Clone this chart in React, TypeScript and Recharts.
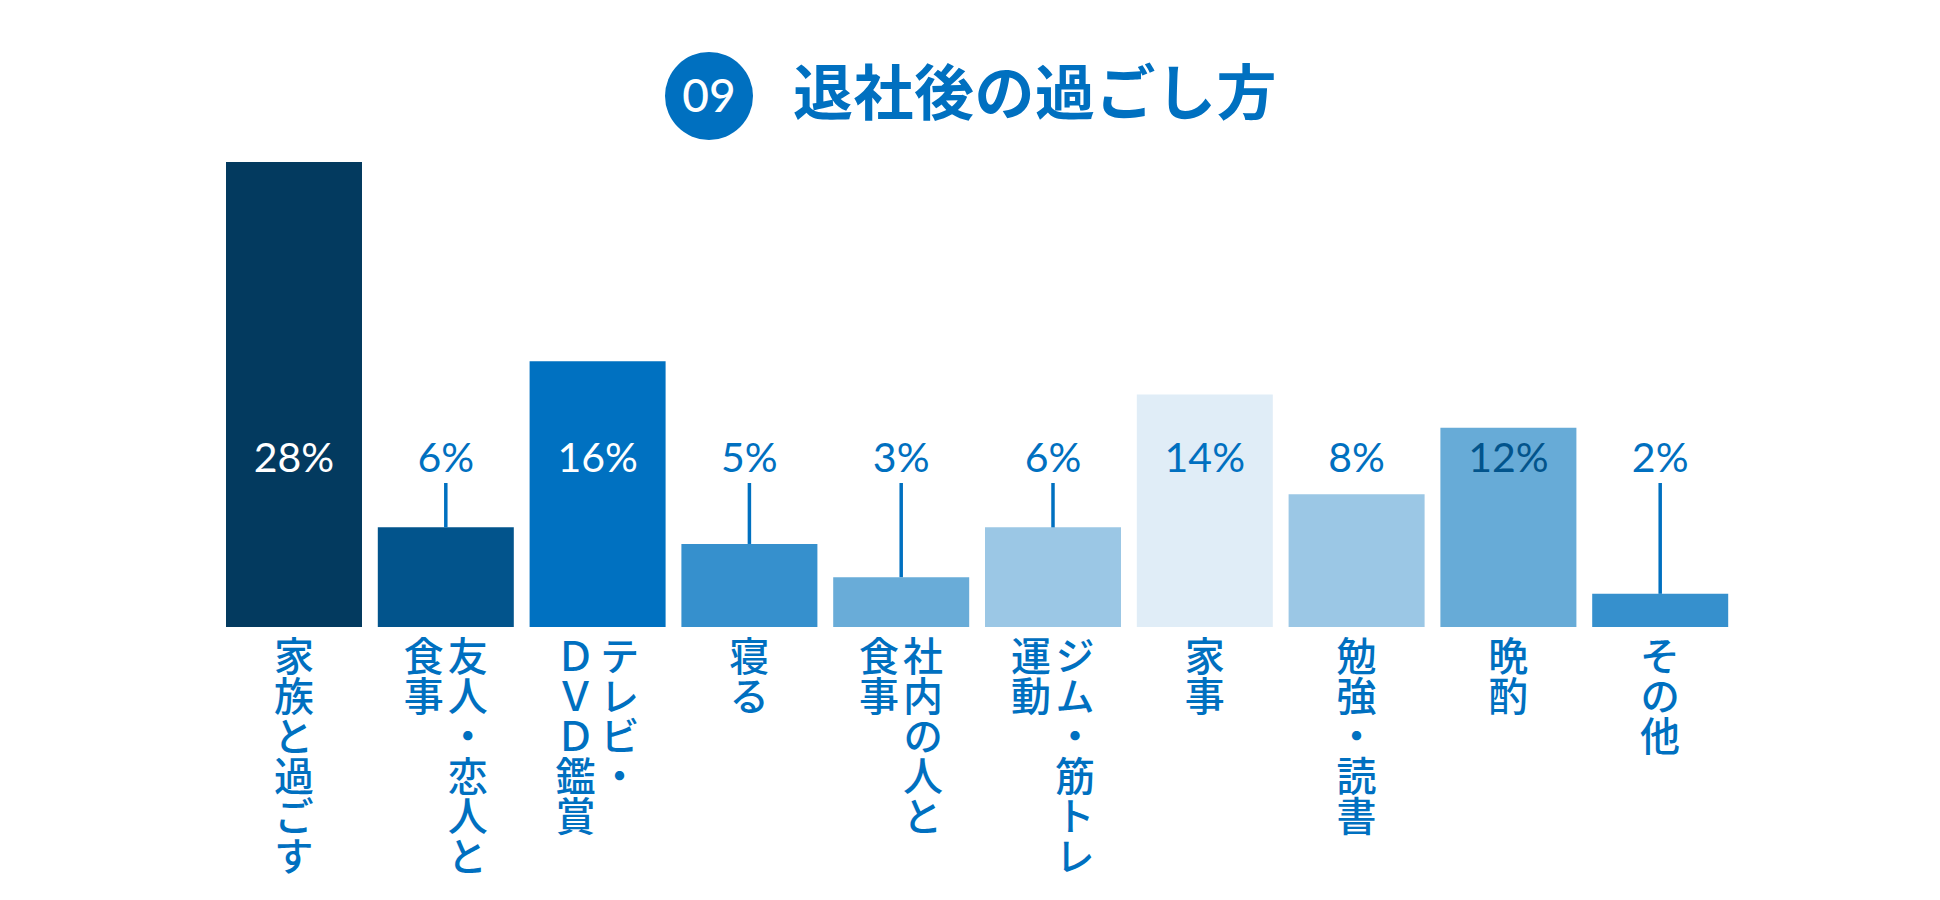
import { BarChart, Bar, XAxis, YAxis, Cell, LabelList } from "recharts";

const categories = [
  "家族と過ごす",
  "友人・恋人と\n食事",
  "テレビ・\nＤＶＤ鑑賞",
  "寝る",
  "社内の人と\n食事",
  "ジム・筋トレ\n運動",
  "家事",
  "勉強・読書",
  "晩酌",
  "その他",
];
const shares = [28, 6, 16, 5, 3, 6, 14, 8, 12, 2];

const barColors = [
  "#033A5F", "#02548C", "#0071C1", "#3690CD", "#69ACD8",
  "#9BC7E5", "#E0EDF7", "#9BC7E5", "#67ABD7", "#3690CD",
];
const labelColors = [
  "#FFFFFF", "#0070C0", "#FFFFFF", "#0070C0", "#0070C0",
  "#0070C0", "#0070C0", "#0070C0", "#02548C", "#0070C0",
];

const data = categories.map((name, i) => ({ name, value: shares[i] }));

const BLUE = "#0070C0";
const JP_FONT = "'Noto Sans CJK JP', 'Noto Sans', sans-serif";
const NUM_FONT = "Lato, 'Noto Sans', sans-serif";
const LABEL_BASELINE = 472;
const LEADER_TOP = 483;

// vertical (tategaki) tick: first line is the right-hand column
const CategoryTick = (props: any) => {
  const { x, y, payload } = props;
  const cols: string[] = String(payload.value).split("\n");
  const offsets = cols.length === 1 ? [0] : [22, -22];
  return (
    <g>
      {cols.map((col, c) => (
        <text
          key={c}
          x={x + offsets[c]}
          y={y + 1}
          fill={BLUE}
          fontFamily={JP_FONT}
          fontWeight={500}
          fontSize={40}
          style={{ writingMode: "vertical-rl" }}
        >
          {col}
        </text>
      ))}
    </g>
  );
};

const ValueLabel = (props: any) => {
  const { x, y, width, value, index } = props;
  const cx = x + width / 2;
  const inside = y < LABEL_BASELINE - 10;
  const showLeader = !inside && y - LEADER_TOP > 20;
  return (
    <g>
      <text
        x={cx}
        y={LABEL_BASELINE}
        textAnchor="middle"
        fontFamily={NUM_FONT}
        fontSize={41}
        fill={inside ? labelColors[index] : BLUE}
      >
        {value}%
      </text>
      {showLeader && (
        <line x1={cx} x2={cx} y1={LEADER_TOP} y2={y} stroke={BLUE} strokeWidth={3.5} />
      )}
    </g>
  );
};

export default function App() {
  return (
    <div style={{ position: "absolute", left: 0, top: 0, width: 1940, height: 900, background: "#fff" }}>
      <svg width={1940} height={150} style={{ position: "absolute", left: 0, top: 0 }}>
        <circle cx={709} cy={96} r={44} fill={BLUE} />
        <text x={709} y={112} textAnchor="middle" fill="#fff" fontFamily={NUM_FONT} fontSize={46} fontWeight={500}>
          09
        </text>
        <text x={793} y={115} fill={BLUE} fontFamily={JP_FONT} fontWeight={700} fontSize={60} letterSpacing={0.5}>
          退社後の過ごし方
        </text>
      </svg>
      <div style={{ position: "absolute", left: 0, top: 0 }}>
        <BarChart
          width={1940}
          height={900}
          data={data}
          margin={{ top: 162, right: 204, bottom: 0, left: 218 }}
        >
          <XAxis
            dataKey="name"
            axisLine={false}
            tickLine={false}
            interval={0}
            height={273}
            tick={<CategoryTick />}
          />
          <YAxis hide domain={[0, 28]} />
          <Bar dataKey="value" barSize={136} isAnimationActive={false}>
            {data.map((d, i) => (
              <Cell key={d.name} fill={barColors[i]} />
            ))}
            <LabelList dataKey="value" content={<ValueLabel />} />
          </Bar>
        </BarChart>
      </div>
    </div>
  );
}
